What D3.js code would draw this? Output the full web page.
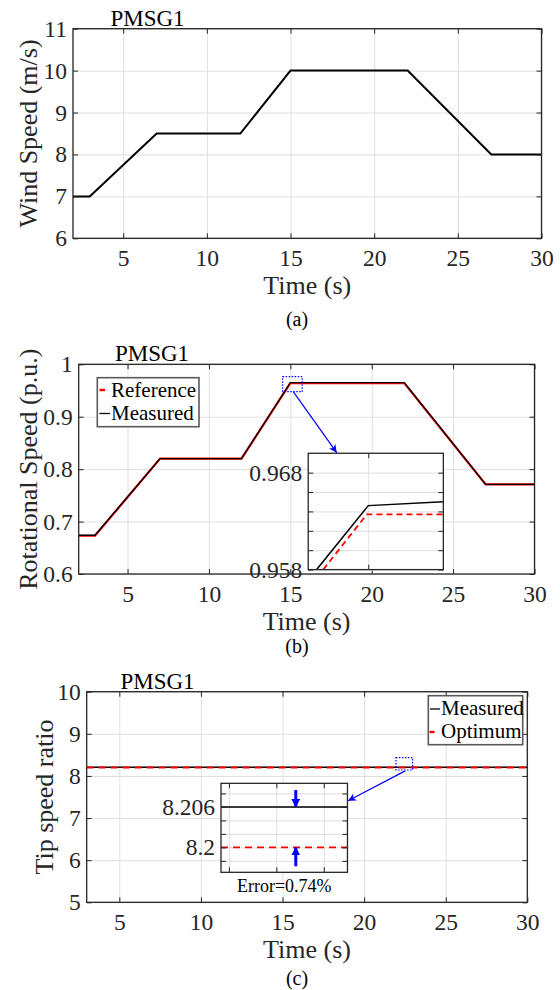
<!DOCTYPE html>
<meta charset="utf-8">
<style>
body { margin: 0; background: #fff; }
</style>
<svg width="560" height="990"></svg>
<script src="https://cdn.jsdelivr.net/npm/d3@7"></script>
<script>

// ---- data ----
var timeA = [2, 3, 7, 12, 15, 22, 27, 30],
    windSpeed = [7, 7, 8.5, 8.5, 10, 10, 8, 8];

var timeB = [2, 3, 7, 12, 15, 22, 27, 30],
    speedRef = [0.673, 0.673, 0.82, 0.82, 0.964, 0.964, 0.771, 0.771],
    speedMeas = [0.674, 0.674, 0.82, 0.82, 0.965, 0.965, 0.771, 0.771];

// zoomed detail of panel (b)
var zoomTimeRef = [14.7, 14.99, 15.5],
    zoomRef = [0.958, 0.9637, 0.9637],
    zoomTimeMeas = [14.656, 15.0, 15.5],
    zoomMeas = [0.958, 0.9646, 0.965];

var timeC = [3, 30],
    tsrMeas = [8.206, 8.206],
    tsrOpt = [8.2, 8.2];

// zoomed detail of panel (c)
var zoomTimeC = [22, 22.8],
    zoomTsrMeas = [8.206, 8.206],
    zoomTsrOpt = [8.2, 8.2];

var xTicks = [5, 10, 15, 20, 25, 30],
    yTicksA = [6, 7, 8, 9, 10, 11],
    yTicksB = [0.6, 0.7, 0.8, 0.9, 1],
    yLabelsB = ["0.6", "0.7", "0.8", "0.9", "1"],
    yTicksC = [5, 6, 7, 8, 9, 10];

var insetBXTicks = [15],
    insetBYTicks = [0.958, 0.96, 0.962, 0.964, 0.966, 0.968],
    insetBYLabels = ["0.958", "", "", "", "", "0.968"];
var insetCXTicks = [22.05, 22.35, 22.65],
    insetCYTicks = [8.198, 8.2, 8.202, 8.204, 8.206, 8.208],
    insetCYLabels = ["", "8.2", "", "", "8.206", ""];

var seriesB = ["Reference", "Measured"],
    seriesC = ["Measured", "Optimum"],
    yTitles = ["Wind Speed (m/s)", "Rotational Speed (p.u.)", "Tip speed ratio"],
    captions = ["(a)", "(b)", "(c)"],
    panelName = "PMSG1",
    errorNote = "Error=0.74%";

// ---- layout ----
var FONT = '"Liberation Serif", "Times New Roman", serif',
    INK = "#262626",
    GRID = "#dfdfdf",
    RED = "#ff0000",
    BLUE = "#0000ff";

var svg = d3.select("svg");

var defs = svg.append("defs");
defs.append("marker").attr("id", "headThin")
    .attr("viewBox", "0 0 10 10").attr("refX", 10).attr("refY", 5)
    .attr("markerUnits", "userSpaceOnUse")
    .attr("markerWidth", 9).attr("markerHeight", 8).attr("orient", "auto")
  .append("path").attr("d", "M0,0L10,5L0,10L3,5z").attr("fill", BLUE);
defs.append("marker").attr("id", "headThick")
    .attr("viewBox", "0 0 10 10").attr("refX", 9).attr("refY", 5)
    .attr("markerUnits", "userSpaceOnUse")
    .attr("markerWidth", 9).attr("markerHeight", 9).attr("orient", "auto")
  .append("path").attr("d", "M0,0L10,5L0,10z").attr("fill", BLUE);

function makeScales(p) {
  return {
    x: d3.scaleLinear().domain(p.xDomain).range([p.left, p.right]),
    y: d3.scaleLinear().domain(p.yDomain).range([p.bottom, p.top])
  };
}

function drawGrid(p, s, bg) {
  var g = svg.append("g");
  if (bg) g.append("rect")
      .attr("x", p.left).attr("y", p.top)
      .attr("width", p.right - p.left).attr("height", p.bottom - p.top)
      .attr("fill", "#fff");
  g.append("g").attr("transform", "translate(0," + p.bottom + ")")
      .call(d3.axisBottom(s.x).tickValues(p.xTicks).tickSize(-(p.bottom - p.top)).tickFormat(""));
  g.append("g").attr("transform", "translate(" + p.left + ",0)")
      .call(d3.axisLeft(s.y).tickValues(p.yTicks).tickSize(-(p.right - p.left)).tickFormat(""));
  g.selectAll(".domain").remove();
  g.selectAll(".tick line").attr("stroke", GRID).attr("stroke-width", 1);
}

function drawFrame(p, s, fs) {
  var g = svg.append("g");
  var fmtX = p.xLabels ? function(d) { return d; } : function() { return ""; };
  var fmtY = function(d, i) { return p.yLabels ? p.yLabels[i] : d; };
  g.append("g").attr("transform", "translate(0," + p.bottom + ")")
      .call(d3.axisBottom(s.x).tickValues(p.xTicks).tickSizeInner(-5).tickSizeOuter(0)
        .tickPadding(11).tickFormat(fmtX));
  g.append("g").attr("transform", "translate(0," + p.top + ")")
      .call(d3.axisTop(s.x).tickValues(p.xTicks).tickSizeInner(-5).tickSizeOuter(0).tickFormat(""));
  g.append("g").attr("transform", "translate(" + p.left + ",0)")
      .call(d3.axisLeft(s.y).tickValues(p.yTicks).tickSizeInner(-5).tickSizeOuter(0)
        .tickPadding(6).tickFormat(fmtY));
  g.append("g").attr("transform", "translate(" + p.right + ",0)")
      .call(d3.axisRight(s.y).tickValues(p.yTicks).tickSizeInner(-5).tickSizeOuter(0).tickFormat(""));
  g.selectAll(".domain").remove();
  g.selectAll("g").attr("font-family", FONT).attr("font-size", fs);
  g.selectAll(".tick line").attr("stroke", INK).attr("stroke-width", 1);
  g.selectAll(".tick text").attr("fill", INK);
  g.append("rect")
      .attr("x", p.left).attr("y", p.top)
      .attr("width", p.right - p.left).attr("height", p.bottom - p.top)
      .attr("fill", "none").attr("stroke", INK).attr("stroke-width", 1.3);
}

function drawSeries(s, t, v, color, width, dash, clipId) {
  var line = d3.line()
      .x(function(d) { return s.x(d[0]); })
      .y(function(d) { return s.y(d[1]); });
  svg.append("path")
      .datum(d3.zip(t, v))
      .attr("clip-path", clipId ? "url(#" + clipId + ")" : null)
      .attr("fill", "none")
      .attr("stroke", color)
      .attr("stroke-width", width)
      .attr("stroke-dasharray", dash)
      .attr("d", line);
}

function clip(id, p) {
  defs.append("clipPath").attr("id", id).append("rect")
      .attr("x", p.left).attr("y", p.top)
      .attr("width", p.right - p.left).attr("height", p.bottom - p.top);
}

function labels(p, i) {
  svg.append("text")
      .attr("x", (p.left + p.right) / 2).attr("y", p.bottom + 56)
      .attr("text-anchor", "middle")
      .attr("font-family", FONT).attr("font-size", 26).attr("fill", INK)
      .text("Time (s)");
  svg.append("text")
      .attr("transform", "translate(" + p.yTitleX + "," + (p.top + p.bottom) / 2 + ") rotate(-90)")
      .attr("text-anchor", "middle")
      .attr("font-family", FONT).attr("font-size", 26).attr("fill", INK)
      .text(yTitles[i]);
  svg.append("text")
      .attr("x", p.nameX).attr("y", p.top - 3)
      .attr("text-anchor", "middle")
      .attr("font-family", FONT).attr("font-size", 23).attr("fill", "#000")
      .text(panelName);
  svg.append("text")
      .attr("x", 297).attr("y", p.captionY)
      .attr("text-anchor", "middle")
      .attr("font-family", FONT).attr("font-size", 20).attr("fill", "#000")
      .text(captions[i]);
}

function zoomBox(s, x0, x1, y0, y1) {
  svg.append("rect")
      .attr("x", s.x(x0)).attr("y", s.y(y1))
      .attr("width", s.x(x1) - s.x(x0)).attr("height", s.y(y0) - s.y(y1))
      .attr("fill", "none").attr("stroke", BLUE)
      .attr("stroke-width", 1.2).attr("stroke-dasharray", "1.5,1.5");
}

function arrow(x1, y1, x2, y2, width, head) {
  svg.append("line")
      .attr("x1", x1).attr("y1", y1).attr("x2", x2).attr("y2", y2)
      .attr("stroke", BLUE).attr("stroke-width", width)
      .attr("marker-end", "url(#" + head + ")");
}

// ---- panel (a) ----
var pa = {left: 73, right: 541.5, top: 28.7, bottom: 238.3,
          xDomain: [2, 30], yDomain: [6, 11], xTicks: xTicks, yTicks: yTicksA,
          xLabels: true, yTitleX: 37, nameX: 147.5, captionY: 326};
var sa = makeScales(pa);
drawGrid(pa, sa);
clip("clipA", pa);
drawSeries(sa, timeA, windSpeed, "#000", 2, null, "clipA");
drawFrame(pa, sa, 23.5);
labels(pa, 0);

// ---- panel (b) ----
var pb = {left: 78.7, right: 534.5, top: 364.3, bottom: 574,
          xDomain: [2, 30], yDomain: [0.6, 1], xTicks: xTicks, yTicks: yTicksB,
          yLabels: yLabelsB, xLabels: true, yTitleX: 37, nameX: 152, captionY: 653};
var sb = makeScales(pb);
drawGrid(pb, sb);
clip("clipB", pb);
drawSeries(sb, timeB, speedRef, RED, 2.2, null, "clipB");
drawSeries(sb, timeB, speedMeas, "#000", 1.4, null, "clipB");
drawFrame(pb, sb, 23.5);
labels(pb, 1);

// legend (b)
var legB = svg.append("g");
legB.append("rect").attr("x", 97.3).attr("y", 377.7).attr("width", 101.7).attr("height", 49)
    .attr("fill", "#fff").attr("stroke", "#5a5a5a").attr("stroke-width", 1.6);
legB.selectAll("text").data(seriesB).enter().append("text")
    .attr("x", 111).attr("y", function(d, i) { return 396.7 + i * 23.3; })
    .attr("font-family", FONT).attr("font-size", 21).attr("fill", "#000")
    .text(function(d) { return d; });
legB.append("line").attr("x1", 99.5).attr("x2", 105).attr("y1", 390).attr("y2", 390)
    .attr("stroke", RED).attr("stroke-width", 2.4);
legB.append("line").attr("x1", 99.5).attr("x2", 110).attr("y1", 413.5).attr("y2", 413.5)
    .attr("stroke", "#000").attr("stroke-width", 1.3);

// zoom (b)
zoomBox(sb, 14.53, 15.73, 0.9477, 0.9763);
arrow(sb.x(15.18), sb.y(0.9477), sb.x(17.85), sb.y(0.8315), 1.2, "headThin");

var ib = {left: sb.x(16.1), right: sb.x(24.4), top: sb.y(0.8303), bottom: sb.y(0.6084),
          xDomain: [14.6, 15.5], yDomain: [0.958, 0.970],
          xTicks: insetBXTicks, yTicks: insetBYTicks, yLabels: insetBYLabels, xLabels: false};
var sib = makeScales(ib);
drawGrid(ib, sib, true);
clip("clipIB", ib);
drawSeries(sib, zoomTimeMeas, zoomMeas, "#000", 1.5, null, "clipIB");
drawSeries(sib, zoomTimeRef, zoomRef, RED, 1.8, "6,4", "clipIB");
drawFrame(ib, sib, 23.5);

// ---- panel (c) ----
var pc = {left: 86.7, right: 527.3, top: 691.7, bottom: 902.3,
          xDomain: [3, 30], yDomain: [5, 10], xTicks: xTicks, yTicks: yTicksC,
          xLabels: true, yTitleX: 53, nameX: 157.5, captionY: 985};
var sc = makeScales(pc);
drawGrid(pc, sc);
clip("clipC", pc);
drawSeries(sc, timeC, tsrMeas, "#000", 1.5, null, "clipC");
drawSeries(sc, timeC, tsrOpt, RED, 2, "7,5", "clipC");
drawFrame(pc, sc, 23.5);
labels(pc, 2);

// legend (c)
var legC = svg.append("g");
legC.append("rect").attr("x", 428.3).attr("y", 695.7).attr("width", 94.4).attr("height", 49)
    .attr("fill", "#fff").attr("stroke", "#5a5a5a").attr("stroke-width", 1.6);
legC.selectAll("text").data(seriesC).enter().append("text")
    .attr("x", 441).attr("y", function(d, i) { return 715 + i * 22.7; })
    .attr("font-family", FONT).attr("font-size", 21).attr("fill", "#000")
    .text(function(d) { return d; });
legC.append("line").attr("x1", 430).attr("x2", 440).attr("y1", 709).attr("y2", 709)
    .attr("stroke", "#000").attr("stroke-width", 1.3);
legC.append("line").attr("x1", 429.5).attr("x2", 434.5).attr("y1", 732).attr("y2", 732)
    .attr("stroke", RED).attr("stroke-width", 2.4);

// zoom (c)
zoomBox(sc, 21.95, 22.97, 8.141, 8.433);
arrow(sc.x(22.52), sc.y(8.12), sc.x(19.02), sc.y(7.412), 1.2, "headThin");

var ic = {left: sc.x(11.23), right: sc.x(18.98), top: sc.y(7.825), bottom: sc.y(5.712),
          xDomain: zoomTimeC, yDomain: [8.1963, 8.2095],
          xTicks: insetCXTicks, yTicks: insetCYTicks, yLabels: insetCYLabels, xLabels: false};
var sic = makeScales(ic);
drawGrid(ic, sic, true);
clip("clipIC", ic);
drawSeries(sic, zoomTimeC, zoomTsrMeas, "#000", 1.5, null, "clipIC");
drawSeries(sic, zoomTimeC, zoomTsrOpt, RED, 1.8, "7,5", "clipIC");
drawFrame(ic, sic, 23.5);

// error arrows inside the zoom
arrow(sic.x(22.473), sic.y(8.2085), sic.x(22.473), sic.y(8.206), 3, "headThick");
arrow(sic.x(22.473), sic.y(8.1972), sic.x(22.473), sic.y(8.2), 3, "headThick");

svg.append("text")
    .attr("x", (ic.left + ic.right) / 2).attr("y", ic.bottom + 19.5)
    .attr("text-anchor", "middle")
    .attr("font-family", FONT).attr("font-size", 18).attr("fill", "#000")
    .text(errorNote);

</script>
